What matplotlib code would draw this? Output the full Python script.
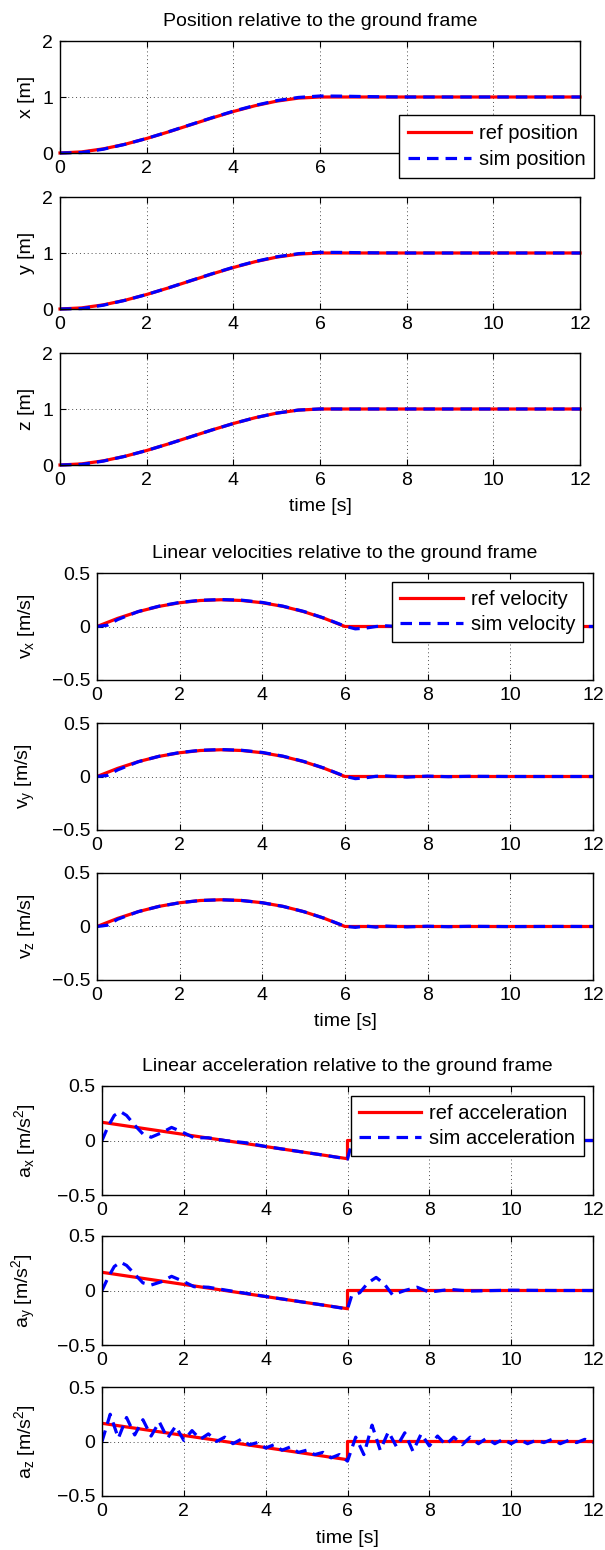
import numpy as np
import matplotlib
matplotlib.use('Agg')
import matplotlib.pyplot as plt
from matplotlib.ticker import FuncFormatter

# ---- data ----
t_pos = [0, 0.5, 1, 1.5, 2, 2.5, 3, 3.5, 4, 4.5, 5, 5.5, 6,
         6.5, 7, 7.5, 8, 8.5, 9, 9.5, 10, 10.5, 11, 11.5, 12]
ref_pos = [0.000, 0.020, 0.074, 0.156, 0.259, 0.376, 0.500, 0.624, 0.741, 0.844, 0.926, 0.980, 1.000,
           1.0, 1.0, 1.0, 1.0, 1.0, 1.0, 1.0, 1.0, 1.0, 1.0, 1.0, 1.0]
sim_x = [0.000, 0.008, 0.068, 0.155, 0.260, 0.378, 0.503, 0.628, 0.746, 0.850, 0.935, 0.992, 1.018,
         1.015, 1.008, 1.003, 1.0, 1.0, 1.0, 1.0, 1.0, 1.0, 1.0, 1.0, 1.0]
sim_y = [0.000, 0.008, 0.068, 0.155, 0.259, 0.377, 0.502, 0.627, 0.745, 0.848, 0.932, 0.988, 1.012,
         1.010, 1.005, 1.002, 1.0, 1.0, 1.0, 1.0, 1.0, 1.0, 1.0, 1.0, 1.0]
sim_z = [0.000, 0.010, 0.070, 0.155, 0.259, 0.376, 0.500, 0.624, 0.741, 0.844, 0.926, 0.981, 1.001,
         1.0, 1.0, 1.0, 1.0, 1.0, 1.0, 1.0, 1.0, 1.0, 1.0, 1.0, 1.0]

ref_vel = [0.0, 0.076, 0.139, 0.188, 0.222, 0.243, 0.250, 0.243, 0.222, 0.188, 0.139, 0.076, 0.0,
           0, 0, 0, 0, 0, 0, 0, 0, 0, 0, 0, 0]
t_vel_sim = [0, 0.25, 0.5, 1, 1.5, 2, 2.5, 3, 3.5, 4, 4.5, 5, 5.5, 6,
             6.25, 6.5, 6.75, 7, 7.5, 8, 8.5, 9, 10, 11, 12]
sim_vx = [0, 0.012, 0.065, 0.140, 0.190, 0.225, 0.245, 0.252, 0.246, 0.225, 0.190, 0.141, 0.078, 0.003,
          -0.022, -0.015, 0.0, 0.006, -0.004, 0.003, 0, 0, 0, 0, 0]
sim_vy = [0, 0.010, 0.062, 0.138, 0.189, 0.224, 0.245, 0.252, 0.245, 0.225, 0.190, 0.141, 0.078, 0.002,
          -0.020, -0.012, 0.002, 0.005, -0.006, 0.004, -0.002, 0.002, 0, 0, 0]
sim_vz = [0, 0.012, 0.068, 0.139, 0.188, 0.222, 0.243, 0.250, 0.243, 0.222, 0.188, 0.139, 0.077, 0.002,
          -0.008, 0.004, -0.006, 0.004, -0.004, 0.003, -0.002, 0.002, -0.001, 0.001, 0]

t_acc_ref = [0, 6, 6, 12]
ref_acc = [0.167, -0.167, 0.0, 0.0]
t_acc_sim = [0, 0.15, 0.3, 0.45, 0.6, 0.8, 1.0, 1.2, 1.45, 1.7, 1.95, 2.25, 2.6, 3.0, 3.5, 4.0,
             4.5, 5.0, 5.5, 6.0, 6.1, 6.3, 6.5, 6.7, 6.9, 7.1, 7.4, 7.7, 8.0, 8.5, 9, 10, 11, 12]
sim_ax = [0, 0.13, 0.23, 0.265, 0.23, 0.14, 0.06, 0.03, 0.07, 0.12, 0.08, 0.025, 0.025, 0.0, -0.02, -0.055,
          -0.083, -0.111, -0.139, -0.17, -0.03, -0.02, 0.06, 0.11, 0.05, -0.03, 0.01, 0.025, -0.01, 0.01,
          0, 0, 0, 0]
sim_ay = [0, 0.12, 0.22, 0.26, 0.23, 0.15, 0.07, 0.05, 0.08, 0.13, 0.09, 0.035, 0.03, 0.005, -0.025, -0.055,
          -0.083, -0.111, -0.139, -0.17, -0.05, -0.02, 0.07, 0.12, 0.06, -0.04, 0.0, 0.03, -0.015, 0.01,
          -0.005, 0.003, 0, 0]
t_az = np.linspace(0, 12, 61)
sim_az = [0.00, 0.25, 0.03, 0.22, 0.06, 0.20, 0.05, 0.18, 0.03, 0.14,
          0.01, 0.10, 0.02, 0.07, 0.00, 0.04, -0.02, 0.02, -0.03, -0.01,
          -0.06, -0.03, -0.08, -0.05, -0.10, -0.08, -0.12, -0.10, -0.15, -0.12,
          -0.18, 0.04, -0.12, 0.15, -0.08, 0.09, -0.05, 0.08, -0.09, 0.07,
          -0.04, 0.05, -0.03, 0.04, -0.03, 0.04, -0.02, 0.03, -0.02, 0.02,
          -0.02, 0.02, -0.02, 0.01, -0.01, 0.02, -0.02, 0.01, -0.01, 0.02,
          -0.01]

# ---- style ----
plt.rcParams['font.family'] = ['Liberation Sans', 'DejaVu Sans']
plt.rcParams['mathtext.fontset'] = 'custom'
plt.rcParams['mathtext.rm'] = 'Liberation Sans'
plt.rcParams['mathtext.it'] = 'Liberation Sans:italic'
plt.rcParams['font.size'] = 14

W, H = 605, 1550
fig = plt.figure(figsize=(W / 100, H / 100), dpi=100)

RED = '#ff0000'
BLUE = '#0000ff'
LW = 2.3
DASH = (3.6, 2.2)
fmt = FuncFormatter(lambda v, p: f'{v:g}'.replace('-', '\u2212'))


def make_ax(left, right, top, h):
    return fig.add_axes([left / W, 1 - (top + h) / H, (right - left) / W, h / H])


def style(ax, ylim, yticks):
    ax.set_xlim(0, 12)
    ax.set_ylim(*ylim)
    ax.set_xticks(range(0, 13, 2))
    ax.set_yticks(yticks)
    ax.yaxis.set_major_formatter(fmt)
    ax.grid(True, linestyle=(0, (1, 3)), color='0.3', linewidth=0.7)
    ax.tick_params(direction='in', top=True, right=True, length=4, width=0.8,
                   pad=5, labelsize=14)
    for s in ax.spines.values():
        s.set_linewidth(1.0)


def draw(ax, tr, r, ts, s, clip=True):
    l1, = ax.plot(tr, r, color=RED, lw=LW, clip_on=clip)
    l2, = ax.plot(ts, s, color=BLUE, lw=LW, linestyle='--', dashes=DASH, clip_on=clip)
    return l1, l2


# ---- group 1: position ----
g1 = [make_ax(60, 580, top, 112) for top in (41, 197, 353)]
for ax, sim, lab in zip(g1, (sim_x, sim_y, sim_z), ('x [m]', 'y [m]', 'z [m]')):
    h = draw(ax, t_pos, ref_pos, t_pos, sim, clip=False)
    style(ax, (0, 2), [0, 1, 2])
    ax.set_ylabel(lab)
    ax.yaxis.set_label_coords(-0.048, 0.5)
    if ax is g1[0]:
        ax.set_title('Position relative to the ground frame', fontsize=14, pad=11)
        ax.legend(h, ['ref position', 'sim position'], loc='upper left',
                  bbox_to_anchor=(0.652, 0.339), borderaxespad=0, fancybox=False,
                  edgecolor='black', framealpha=1, fontsize=14.5, handlelength=3.1,
                  handletextpad=0.4, labelspacing=0.35, borderpad=0.45)
g1[2].set_xlabel('time [s]')
g1[2].xaxis.set_label_coords(0.5, -0.295)

# ---- group 2: velocity ----
g2 = [make_ax(97, 593, top, 107) for top in (573, 723, 873)]
vlabels = [r'v$_\mathregular{x}$ [m/s]', r'v$_\mathregular{y}$ [m/s]', r'v$_\mathregular{z}$ [m/s]']
for ax, sim, lab in zip(g2, (sim_vx, sim_vy, sim_vz), vlabels):
    h = draw(ax, t_pos, ref_vel, t_vel_sim, sim)
    style(ax, (-0.5, 0.5), [-0.5, 0, 0.5])
    ax.set_ylabel(lab)
    ax.yaxis.set_label_coords(-0.121, 0.5)
    if ax is g2[0]:
        ax.set_title('Linear velocities relative to the ground frame', fontsize=14, pad=11)
        ax.legend(h, ['ref velocity', 'sim velocity'], loc='upper left',
                  bbox_to_anchor=(0.595, 0.916), borderaxespad=0, fancybox=False,
                  edgecolor='black', framealpha=1, fontsize=14.5, handlelength=3.1,
                  handletextpad=0.4, labelspacing=0.3, borderpad=0.4)
g2[2].set_xlabel('time [s]')
g2[2].xaxis.set_label_coords(0.5, -0.308)

# ---- group 3: acceleration ----
g3 = [make_ax(102, 593, top, 109) for top in (1086, 1236, 1387)]
alabels = [r'a$_\mathregular{x}$ [m/s$^\mathregular{2}$]', r'a$_\mathregular{y}$ [m/s$^\mathregular{2}$]',
           r'a$_\mathregular{z}$ [m/s$^\mathregular{2}$]']
for ax, ts, sim, lab in zip(g3, (t_acc_sim, t_acc_sim, t_az), (sim_ax, sim_ay, sim_az), alabels):
    h = draw(ax, t_acc_ref, ref_acc, ts, sim)
    style(ax, (-0.5, 0.5), [-0.5, 0, 0.5])
    ax.set_ylabel(lab)
    ax.yaxis.set_label_coords(-0.130, 0.5)
    if ax is g3[0]:
        ax.set_title('Linear acceleration relative to the ground frame', fontsize=14, pad=11)
        ax.legend(h, ['ref acceleration', 'sim acceleration'], loc='upper left',
                  bbox_to_anchor=(0.507, 0.908), borderaxespad=0, fancybox=False,
                  edgecolor='black', framealpha=1, fontsize=14.5, handlelength=3.1,
                  handletextpad=0.4, labelspacing=0.3, borderpad=0.4)
g3[2].set_xlabel('time [s]')
g3[2].xaxis.set_label_coords(0.5, -0.312)

fig.savefig('out.png', dpi=100)
